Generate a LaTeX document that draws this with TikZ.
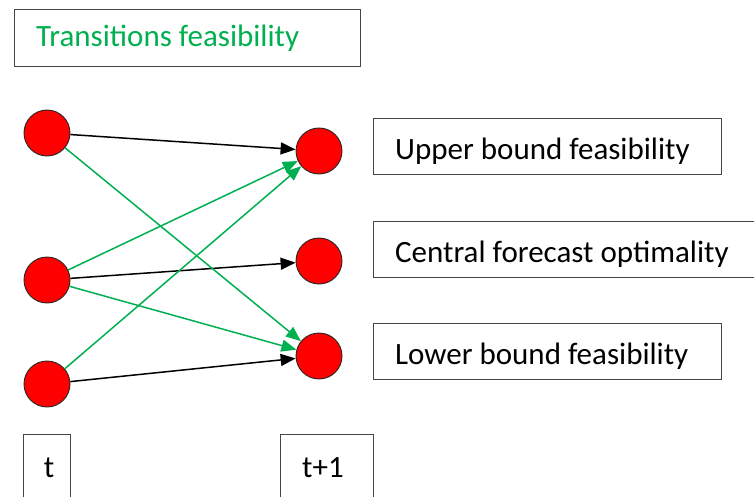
\documentclass[tikz,border=0pt]{standalone}
\usepackage{fontspec}
\setmainfont{Carlito}
\usetikzlibrary{arrows.meta}
\definecolor{offgreen}{RGB}{0,176,80}
\definecolor{boxline}{RGB}{70,70,70}
\begin{document}
\begin{tikzpicture}[x=1pt,y=-1pt,
  box/.style={draw=boxline, line width=1.3pt, inner sep=0pt, anchor=north west},
  dot/.style={circle, fill=red, draw=black!85, line width=0.9pt, minimum size=46pt, inner sep=0pt},
  blk/.style={-{Triangle[length=15pt,width=12pt]}, line width=1.5pt, black},
  grn/.style={-{Triangle[length=15pt,width=12pt]}, line width=1.5pt, offgreen},
  lbl/.style={font=\fontsize{31}{36}\selectfont, anchor=base west, inner sep=0pt}]
\useasboundingbox (0,0) rectangle (754,497);
\clip (0,0) rectangle (754,497);
% boxes
\node[box, minimum width=346pt, minimum height=57pt] (tfbox) at (14,9) {};
\node[lbl, text=offgreen] (tftext) at (36,47) {Transitions feasibility};
\node[box, minimum width=348pt, minimum height=56pt] (ubox) at (373,118) {};
\node[lbl] (utext) at (395,160) {Upper bound feasibility};
\node[box, minimum width=400pt, minimum height=56pt] (cbox) at (373,221) {};
\node[lbl] (ctext) at (395,262) {Central forecast optimality};
\node[box, minimum width=348pt, minimum height=56pt] (lbox) at (373,323) {};
\node[lbl] (ltext) at (395,364) {Lower bound feasibility};
\node[box, minimum width=47pt, minimum height=80pt] (tbox) at (23,434) {};
\node[lbl, anchor=base] (ttext) at (49,477) {t};
\node[box, minimum width=93pt, minimum height=80pt] (t1box) at (280,434) {};
\node[lbl] (t1text) at (302,477) {t+1};
% circles
\node[dot] (lt) at (47,133) {};
\node[dot] (lm) at (47,280) {};
\node[dot] (lb) at (47,384) {};
\node[dot] (rt) at (319,151) {};
\node[dot] (rm) at (319,261) {};
\node[dot] (rb) at (319,356) {};
% arrows
\draw[blk] (lt) -- (rt);
\draw[blk] (lm) -- (rm);
\draw[blk] (lb) -- (rb);
\draw[grn] (lt) -- (rb);
\draw[grn] (lm) -- (rt);
\draw[grn] (lm) -- (rb);
\draw[grn] (lb) -- (rt);
\end{tikzpicture}
\end{document}
